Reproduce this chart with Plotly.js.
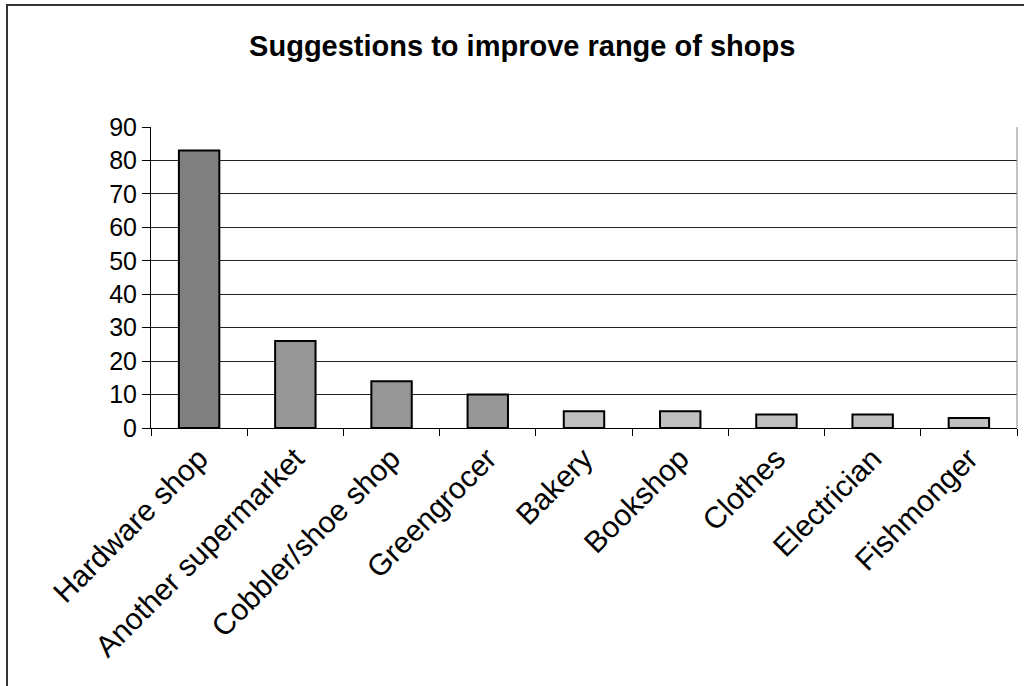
<!DOCTYPE html>
<html>
<head>
<meta charset="utf-8">
<script src="https://cdn.plot.ly/plotly-3.0.1.min.js"></script>
<style>html,body{margin:0;padding:0;background:#fff;}#chart{width:1024px;height:686px;}</style>
</head>
<body>
<div id="chart"></div>
<script>
const categories = ["Hardware shop", "Another supermarket", "Cobbler/shoe shop", "Greengrocer", "Bakery", "Bookshop", "Clothes", "Electrician", "Fishmonger"];
const values = [83, 26, 14, 10, 5, 5, 4, 4, 3];
const barColors = ["#808080", "#969696", "#969696", "#969696", "#c0c0c0", "#c0c0c0", "#c0c0c0", "#c0c0c0", "#c0c0c0"];
const yTicks = [0, 10, 20, 30, 40, 50, 60, 70, 80, 90];

const L = 151, R = 7, T = 127, B = 258, W = 1024, H = 686;
const pw = W - L - R, ph = H - T - B;
const px = v => (v - L) / pw;
const py = v => (H - B - v) / ph;

const trace = {
  type: "bar",
  x: categories,
  y: values,
  marker: { color: barColors, line: { color: "#000", width: 2 } },
  hoverinfo: "x+y"
};

const layout = {
  width: W, height: H,
  margin: { l: L, r: R, t: T, b: B, pad: 0 },
  paper_bgcolor: "#fff",
  plot_bgcolor: "#fff",
  showlegend: false,
  bargap: 0.58,
  font: { family: "Liberation Sans, Arial, sans-serif", color: "#000" },
  title: {
    text: "<b>Suggestions to improve range of shops</b>",
    font: { family: "Liberation Sans, Arial, sans-serif", size: 29, color: "#000" },
    x: 0.51, xanchor: "center", y: 1 - 46 / H, yanchor: "middle"
  },
  xaxis: {
    type: "category",
    tickangle: -45,
    tickfont: { size: 30 },
    ticks: "outside",
    tickson: "boundaries",
    ticklen: 7,
    tickcolor: "#000",
    showline: true,
    linecolor: "#000",
    linewidth: 1,
    showgrid: false,
    automargin: false
  },
  yaxis: {
    range: [0, 90],
    tickvals: yTicks,
    ticktext: yTicks.map(String),
    tickfont: { size: 25 },
    ticks: "outside",
    ticklen: 8,
    tickcolor: "#000",
    showline: true,
    linecolor: "#000",
    linewidth: 1,
    showgrid: true,
    gridcolor: "#222",
    gridwidth: 1,
    zeroline: false,
    automargin: false
  },
  shapes: [
    { type: "line", xref: "paper", yref: "paper", x0: 1, x1: 1, y0: 0, y1: 1, line: { color: "#888", width: 1 } },
    { type: "rect", xref: "paper", yref: "paper", x0: px(7), x1: px(1040), y0: py(5), y1: py(720), line: { color: "#333", width: 2 }, fillcolor: "rgba(0,0,0,0)", layer: "below" }
  ]
};

Plotly.newPlot("chart", [trace], layout, { displayModeBar: false, staticPlot: true });
</script>
</body>
</html>
